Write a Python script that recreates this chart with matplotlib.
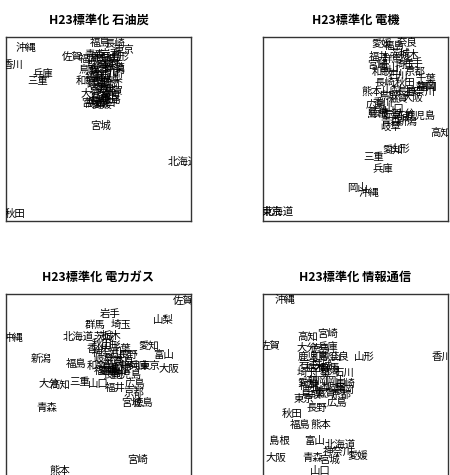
import matplotlib
matplotlib.use("Agg")
import matplotlib.pyplot as plt

plt.rcParams['font.family'] = ['Noto Sans CJK JP', 'DejaVu Sans']

prefs = ["北海道", "青森", "岩手", "宮城", "秋田", "山形", "福島", "茨城", "栃木", "群馬",
         "埼玉", "千葉", "東京", "神奈川", "新潟", "富山", "石川", "福井", "山梨", "長野",
         "岐阜", "静岡", "愛知", "三重", "滋賀", "京都", "大阪", "兵庫", "奈良", "和歌山",
         "鳥取", "島根", "岡山", "広島", "山口", "徳島", "香川", "愛媛", "高知", "福岡",
         "佐賀", "長崎", "熊本", "大分", "宮崎", "鹿児島", "沖縄"]

titles = ["H23標準化 石油炭", "H23標準化 電機", "H23標準化 電力ガス", "H23標準化 情報通信"]

# 石油炭
x_oil = [0.96, 0.48, 0.56, 0.51, 0.05, 0.61, 0.51, 0.54, 0.58, 0.49, 0.55, 0.59, 0.64, 0.53,
         0.59, 0.51, 0.56, 0.48, 0.58, 0.52, 0.49, 0.56, 0.53, 0.17, 0.58, 0.50, 0.54, 0.20,
         0.57, 0.46, 0.45, 0.51, 0.55, 0.50, 0.54, 0.57, 0.04, 0.52, 0.48, 0.45, 0.36, 0.59,
         0.51, 0.46, 0.46, 0.54, 0.11]
y_oil = [0.32, 0.90, 0.91, 0.52, 0.04, 0.89, 0.97, 0.88, 0.86, 0.85, 0.84, 0.83, 0.93, 0.81,
         0.82, 0.79, 0.79, 0.78, 0.77, 0.76, 0.74, 0.74, 0.72, 0.76, 0.71, 0.71, 0.70, 0.80,
         0.68, 0.76, 0.82, 0.67, 0.66, 0.65, 0.64, 0.66, 0.85, 0.63, 0.64, 0.88, 0.89, 0.96,
         0.83, 0.69, 0.64, 0.89, 0.94]

# 電機
x_elec = [0.08, 0.69, 0.81, 0.74, 0.77, 0.74, 0.71, 0.74, 0.79, 0.70, 0.77, 0.88, 0.05, 0.85,
          0.78, 0.68, 0.73, 0.63, 0.70, 0.78, 0.69, 0.88, 0.70, 0.60, 0.73, 0.82, 0.81, 0.65,
          0.78, 0.67, 0.68, 0.62, 0.51, 0.61, 0.71, 0.63, 0.65, 0.64, 0.96, 0.89, 0.70, 0.66,
          0.59, 0.77, 0.62, 0.85, 0.57]
y_elec = [0.05, 0.54, 0.86, 0.56, 0.75, 0.39, 0.95, 0.91, 0.90, 0.88, 0.85, 0.77, 0.05, 0.70,
          0.54, 0.83, 0.79, 0.89, 0.71, 0.70, 0.51, 0.73, 0.39, 0.35, 0.67, 0.81, 0.67, 0.28,
          0.97, 0.81, 0.68, 0.58, 0.18, 0.63, 0.61, 0.59, 0.64, 0.96, 0.48, 0.73, 0.58, 0.75,
          0.70, 0.58, 0.85, 0.57, 0.15]

# 電力ガス
x_power = [0.39, 0.22, 0.56, 0.68, 0.52, 0.57, 0.38, 0.53, 0.57, 0.48, 0.62, 0.62, 0.78, 0.55,
           0.19, 0.85, 0.61, 0.59, 0.85, 0.66, 0.53, 0.67, 0.77, 0.40, 0.58, 0.69, 0.88, 0.72,
           0.64, 0.52, 0.57, 0.62, 0.60, 0.70, 0.50, 0.74, 0.49, 0.55, 0.29, 0.53, 0.96, 0.58,
           0.29, 0.23, 0.71, 0.65, 0.04]
y_power = [0.77, 0.38, 0.89, 0.41, 0.73, 0.72, 0.62, 0.77, 0.77, 0.83, 0.83, 0.70, 0.61, 0.68,
           0.65, 0.67, 0.67, 0.49, 0.86, 0.67, 0.65, 0.61, 0.72, 0.52, 0.64, 0.46, 0.59, 0.61,
           0.63, 0.61, 0.60, 0.59, 0.58, 0.51, 0.51, 0.41, 0.70, 0.58, 0.51, 0.58, 0.96, 0.56,
           0.04, 0.51, 0.10, 0.56, 0.76]

# 情報通信
x_info = [0.42, 0.27, 0.25, 0.36, 0.16, 0.55, 0.20, 0.32, 0.28, 0.36, 0.24, 0.31, 0.22, 0.41,
          0.36, 0.28, 0.44, 0.25, 0.32, 0.29, 0.39, 0.44, 0.24, 0.28, 0.34, 0.42, 0.07, 0.35,
          0.41, 0.34, 0.26, 0.09, 0.39, 0.40, 0.31, 0.31, 0.97, 0.51, 0.24, 0.30, 0.04, 0.44,
          0.31, 0.24, 0.35, 0.27, 0.12]
y_info = [0.18, 0.11, 0.62, 0.10, 0.35, 0.66, 0.29, 0.61, 0.60, 0.60, 0.57, 0.57, 0.43, 0.14,
          0.58, 0.20, 0.57, 0.50, 0.49, 0.38, 0.49, 0.48, 0.52, 0.47, 0.46, 0.45, 0.11, 0.71,
          0.66, 0.66, 0.45, 0.20, 0.53, 0.41, 0.04, 0.70, 0.66, 0.12, 0.77, 0.53, 0.72, 0.51,
          0.29, 0.71, 0.78, 0.66, 0.97]

panels = [(x_oil, y_oil), (x_elec, y_elec), (x_power, y_power), (x_info, y_info)]

W, H = 450, 475
fig = plt.figure(figsize=(W / 100, H / 100), dpi=100)

# plot boxes in pixels: (left, top); bottom row runs just past the lower edge
boxes = [(6, 37), (263, 37), (6, 294), (263, 294)]
bw, bh = 185, 184

for (left, top), title, (xs, ys) in zip(boxes, titles, panels):
    ax = fig.add_axes([left / W, (H - top - bh) / H, bw / W, bh / H])
    ax.set_xlim(0, 1)
    ax.set_ylim(0, 1)
    ax.set_xticks([])
    ax.set_yticks([])
    for sp in ax.spines.values():
        sp.set_linewidth(1.0)
        sp.set_color("#333333")
    for name, x, y in zip(prefs, xs, ys):
        ax.text(x, y, name, ha="center", va="center", fontsize=7.5,
                color="black", clip_on=True)
    ax.text(0.5, 1 + 17 / bh, title, transform=ax.transAxes, ha="center",
            va="center", fontsize=8.8, fontweight="bold")

fig.savefig("out.png", dpi=100)
